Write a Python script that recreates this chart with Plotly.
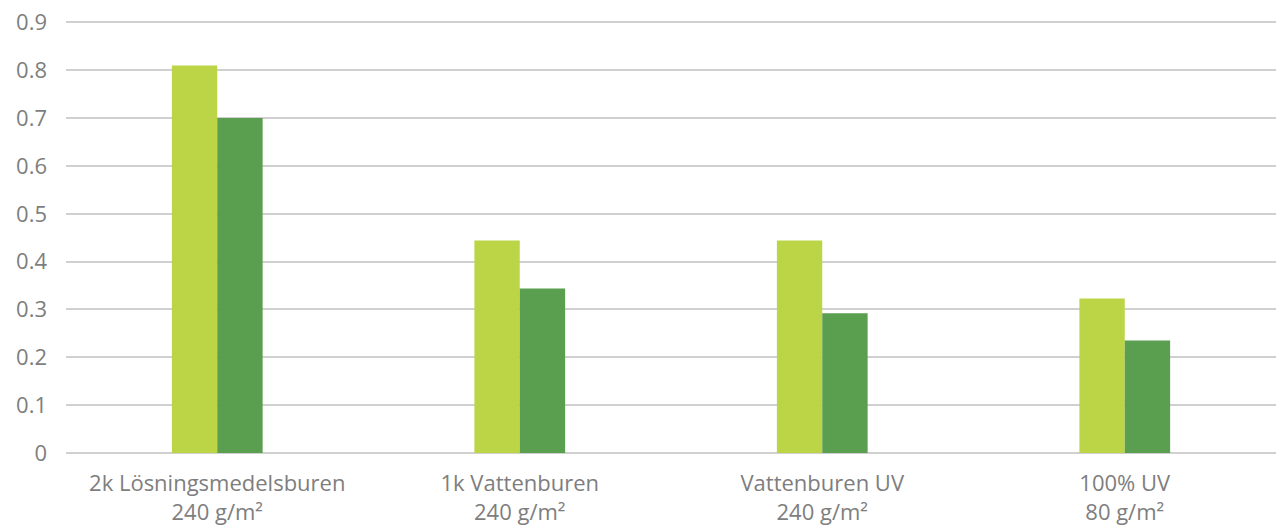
import plotly.graph_objects as go

categories = ["2k Lösningsmedelsburen", "1k Vattenburen", "Vattenburen UV", "100% UV"]
coverage = ["240 g/m²", "240 g/m²", "240 g/m²", "80 g/m²"]
series_a = [0.81, 0.444, 0.444, 0.323]
series_b = [0.70, 0.344, 0.292, 0.235]
y_ticks = [0, 0.1, 0.2, 0.3, 0.4, 0.5, 0.6, 0.7, 0.8, 0.9]
y_labels = ["0", "0.1", "0.2", "0.3", "0.4", "0.5", "0.6", "0.7", "0.8", "0.9"]

font_family = "'Open Sans', Lato, sans-serif"
text_color = "#7E7E7E"

fig = go.Figure()
fig.add_trace(go.Bar(x=categories, y=series_a, marker_color="#BBD546",
                     marker_line_width=0, name="A"))
fig.add_trace(go.Bar(x=categories, y=series_b, marker_color="#5A9E4F",
                     marker_line_width=0, name="B"))

ticktext = [f"{c}<br>{g}" for c, g in zip(categories, coverage)]

fig.update_layout(
    width=1283, height=527,
    margin=dict(l=66, r=7, t=21, b=74),
    plot_bgcolor="white", paper_bgcolor="white",
    barmode="group", bargap=0.70, bargroupgap=0,
    showlegend=False,
    font=dict(family=font_family, size=22, color=text_color),
    xaxis=dict(tickmode="array", tickvals=categories, ticktext=ticktext,
               showgrid=False, showline=False, zeroline=False,
               ticks="", ticklabelstandoff=15, automargin=False),
    yaxis=dict(range=[0, 0.903],
               showgrid=True, gridcolor="#D0D0D0", gridwidth=2,
               zeroline=True, zerolinecolor="#D0D0D0", zerolinewidth=2,
               showline=False, ticks="", ticklabelstandoff=18, automargin=False,
               tickmode="array", tickvals=y_ticks, ticktext=y_labels),
)

fig.write_html("out.html",
               config={"displayModeBar": False},
               post_script="document.body.style.margin='0';document.body.style.overflow='hidden';")
